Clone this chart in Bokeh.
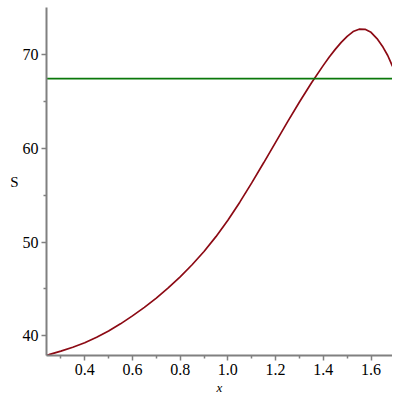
from bokeh.plotting import figure
from bokeh.embed import file_html
from bokeh.resources import INLINE
from bokeh.models import Range1d, FixedTicker, NumeralTickFormatter

# Data
x_vals = [0.24, 0.25, 0.30, 0.35, 0.40, 0.45, 0.50, 0.55, 0.60, 0.65, 0.70, 0.75,
          0.80, 0.85, 0.90, 0.95, 1.00, 1.05, 1.10, 1.15, 1.20, 1.25, 1.30, 1.35,
          1.40, 1.425, 1.45, 1.475, 1.50, 1.525, 1.55, 1.575, 1.60, 1.625, 1.65,
          1.67, 1.69]
s_vals = [37.95, 38.02, 38.38, 38.80, 39.28, 39.86, 40.53, 41.29, 42.14, 43.04, 44.03, 45.11,
          46.29, 47.58, 48.99, 50.57, 52.32, 54.24, 56.29, 58.43, 60.61, 62.78, 64.90, 66.92,
          68.80, 69.70, 70.50, 71.25, 71.88, 72.40, 72.65, 72.64, 72.32, 71.65, 70.75,
          69.85, 68.70]
level = 67.38
x_ticks = [0.4, 0.6, 0.8, 1.0, 1.2, 1.4, 1.6]
y_ticks = [40, 50, 60, 70]
x_minor = [0.3, 0.5, 0.7, 0.9, 1.1, 1.3, 1.5]
y_minor = [45, 55, 65]
x_lo, x_hi = 0.2398, 1.690
y_lo, y_hi = 37.92, 74.96

p = figure(width=392, height=397, output_backend="svg", toolbar_location=None,
           x_range=Range1d(x_lo, x_hi), y_range=Range1d(y_lo, y_hi),
           min_border_left=46, min_border_right=0, min_border_top=7, min_border_bottom=42)
p.outline_line_color = None
p.grid.visible = False
p.background_fill_color = "white"
p.border_fill_color = "white"

p.line(x_vals, s_vals, line_color="#8c0a14", line_width=1.7)
p.line([x_vals[0], x_vals[-1]], [level, level], line_color="#0a780a", line_width=1.7)

p.xaxis.ticker = FixedTicker(ticks=x_ticks, minor_ticks=x_minor)
p.yaxis.ticker = FixedTicker(ticks=y_ticks, minor_ticks=y_minor)
p.xaxis.formatter = NumeralTickFormatter(format="0.0")

for ax in (p.xaxis[0], p.yaxis[0]):
    ax.axis_line_color = "#808080"
    ax.axis_line_width = 2
    ax.major_tick_line_color = "#808080"
    ax.minor_tick_line_color = "#808080"
    ax.major_tick_line_width = 1.5
    ax.minor_tick_line_width = 1.5
    ax.major_tick_in = 0
    ax.major_tick_out = 5
    ax.minor_tick_in = 0
    ax.minor_tick_out = 3
    ax.major_label_text_font = "Liberation Serif"
    ax.major_label_text_font_size = "16px"
    ax.major_label_text_color = "black"
    ax.axis_label_text_font = "Liberation Serif"
    ax.axis_label_text_color = "black"

p.xaxis.major_label_standoff = 3
p.xaxis.axis_label = "x"
p.xaxis.axis_label_text_font_style = "italic"
p.xaxis.axis_label_text_font_size = "13px"
p.xaxis.axis_label_standoff = 2

p.yaxis.axis_label = "S"
p.yaxis.axis_label_orientation = "horizontal"
p.yaxis.axis_label_text_font_style = "normal"
p.yaxis.axis_label_text_font_size = "15px"
p.yaxis.axis_label_standoff = 1
p.yaxis.major_label_standoff = 3

open("out.html", "w").write(file_html(p, INLINE))
